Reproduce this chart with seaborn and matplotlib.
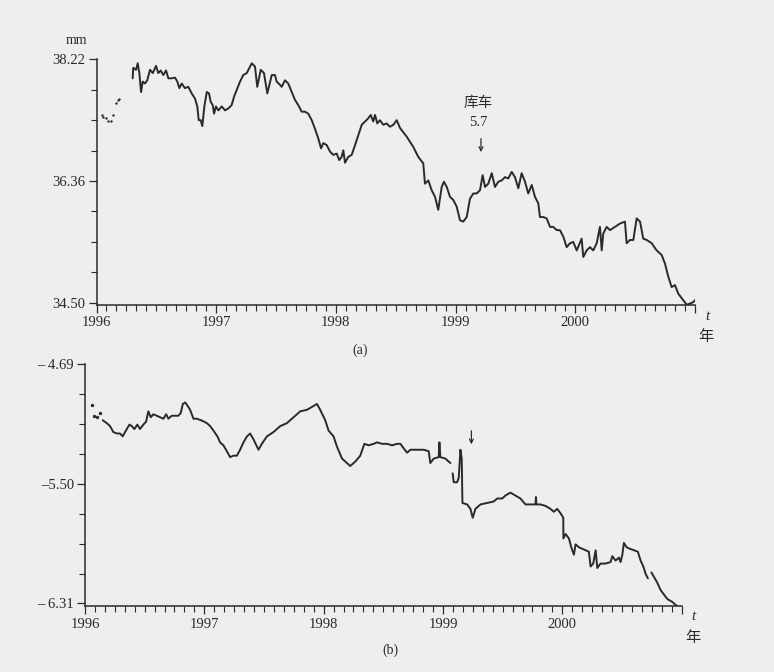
import numpy as np
import pandas as pd
import matplotlib
matplotlib.use("Agg")
import matplotlib.pyplot as plt
from matplotlib.ticker import MultipleLocator, FixedLocator
import seaborn as sns

# ---- panel (a): mm, scattered readings at the start + main record
a_dot_year = [1996.043, 1996.057, 1996.079, 1996.099, 1996.119,
              1996.140, 1996.163, 1996.182, 1996.190]
a_dot_mm = [37.37, 37.34, 37.32, 37.28, 37.28, 37.37, 37.56, 37.60, 37.62]

a_year = [
    1996.302, 1996.307, 1996.330, 1996.344, 1996.358, 1996.372, 1996.386, 1996.405,
    1996.424, 1996.447, 1996.470, 1996.497, 1996.516, 1996.536, 1996.558, 1996.581,
    1996.600, 1996.628, 1996.656, 1996.675, 1996.692, 1996.712, 1996.739, 1996.767,
    1996.795, 1996.823, 1996.842, 1996.854, 1996.870, 1996.884, 1996.901, 1996.921,
    1996.940, 1996.954, 1996.971, 1996.982, 1996.998, 1997.018, 1997.046, 1997.074,
    1997.101, 1997.129, 1997.149, 1997.171, 1997.199, 1997.226, 1997.255, 1997.297,
    1997.324, 1997.343, 1997.372, 1997.399, 1997.427, 1997.464, 1997.491, 1997.505,
    1997.533, 1997.547, 1997.575, 1997.602, 1997.631, 1997.658, 1997.686, 1997.714,
    1997.742, 1997.769, 1997.798, 1997.825, 1997.853, 1997.876, 1997.895, 1997.923,
    1997.951, 1997.978, 1998.007, 1998.028, 1998.048, 1998.062, 1998.076, 1998.104,
    1998.132, 1998.160, 1998.187, 1998.216, 1998.243, 1998.271, 1998.291, 1998.312,
    1998.327, 1998.346, 1998.368, 1998.396, 1998.424, 1998.452, 1998.480, 1998.508,
    1998.536, 1998.591, 1998.647, 1998.688, 1998.730, 1998.744, 1998.772, 1998.800,
    1998.828, 1998.855, 1998.884, 1998.903, 1998.926, 1998.953, 1998.981, 1999.009,
    1999.037, 1999.064, 1999.093, 1999.120, 1999.148, 1999.176, 1999.204, 1999.226,
    1999.246, 1999.273, 1999.302, 1999.329, 1999.357, 1999.385, 1999.413, 1999.440,
    1999.469, 1999.496, 1999.524, 1999.552, 1999.580, 1999.607, 1999.636, 1999.663,
    1999.691, 1999.705, 1999.733, 1999.761, 1999.789, 1999.816, 1999.845, 1999.872,
    1999.900, 1999.928, 1999.956, 1999.983, 2000.012, 2000.053, 2000.067, 2000.095,
    2000.123, 2000.150, 2000.179, 2000.206, 2000.221, 2000.234, 2000.262, 2000.290,
    2000.332, 2000.373, 2000.415, 2000.429, 2000.457, 2000.485, 2000.513, 2000.541,
    2000.568, 2000.597, 2000.638, 2000.680, 2000.722, 2000.749, 2000.777, 2000.805,
    2000.833, 2000.860, 2000.889, 2000.931, 2000.960, 2000.986, 2000.999,
]
a_mm = [
    37.93, 38.09, 38.06, 38.16, 38.01, 37.72, 37.88, 37.85,
    37.90, 38.06, 38.01, 38.12, 38.01, 38.05, 37.98, 38.05,
    37.93, 37.93, 37.94, 37.88, 37.78, 37.85, 37.78, 37.80,
    37.70, 37.62, 37.50, 37.29, 37.29, 37.20, 37.50, 37.72,
    37.70, 37.57, 37.52, 37.39, 37.50, 37.44, 37.50, 37.44,
    37.47, 37.52, 37.65, 37.75, 37.88, 37.98, 38.01, 38.16,
    38.11, 37.80, 38.06, 38.01, 37.70, 37.98, 37.98, 37.88,
    37.83, 37.80, 37.90, 37.85, 37.72, 37.60, 37.52, 37.42,
    37.42, 37.39, 37.29, 37.16, 37.01, 36.86, 36.94, 36.91,
    36.81, 36.76, 36.78, 36.68, 36.73, 36.83, 36.64, 36.73,
    36.76, 36.91, 37.06, 37.22, 37.27, 37.32, 37.37, 37.27,
    37.37, 37.24, 37.29, 37.22, 37.24, 37.19, 37.22, 37.29,
    37.17, 37.04, 36.88, 36.73, 36.63, 36.32, 36.37, 36.22,
    36.12, 35.92, 36.27, 36.35, 36.27, 36.12, 36.07, 35.97,
    35.76, 35.74, 35.81, 36.09, 36.17, 36.17, 36.22, 36.45,
    36.27, 36.32, 36.48, 36.27, 36.35, 36.37, 36.42, 36.40,
    36.50, 36.42, 36.25, 36.48, 36.35, 36.17, 36.30, 36.12,
    36.02, 35.81, 35.81, 35.79, 35.66, 35.66, 35.61, 35.61,
    35.51, 35.35, 35.41, 35.43, 35.30, 35.48, 35.20, 35.30,
    35.35, 35.30, 35.41, 35.66, 35.30, 35.56, 35.66, 35.61,
    35.66, 35.71, 35.74, 35.41, 35.46, 35.46, 35.79, 35.74,
    35.48, 35.46, 35.41, 35.30, 35.23, 35.10, 34.90, 34.74,
    34.77, 34.64, 34.57, 34.47, 34.49, 34.51, 34.54,
]

# ---- panel (b)
b_dot_year = [1996.056, 1996.076, 1996.098, 1996.126]
b_dot_val = [-4.97, -5.04, -5.05, -5.02]

b_year = [
    1996.148, 1996.182, 1996.210, 1996.237, 1996.266, 1996.294, 1996.316, 1996.336,
    1996.372, 1996.392, 1996.414, 1996.439, 1996.461, 1996.489, 1996.512, 1996.531,
    1996.551, 1996.573, 1996.602, 1996.629, 1996.657, 1996.680, 1996.699, 1996.727,
    1996.755, 1996.783, 1996.803, 1996.820, 1996.839, 1996.858, 1996.881, 1996.909,
    1996.937, 1996.971, 1996.998, 1997.021, 1997.049, 1997.076, 1997.110, 1997.132,
    1997.160, 1997.189, 1997.216, 1997.244, 1997.273, 1997.300, 1997.328, 1997.357,
    1997.384, 1997.412, 1997.454, 1997.482, 1997.524, 1997.580, 1997.636, 1997.692,
    1997.748, 1997.804, 1997.860, 1997.902, 1997.944, 1997.971, 1998.013, 1998.041,
    1998.083, 1998.112, 1998.154, 1998.195, 1998.223, 1998.265, 1998.307, 1998.341,
    1998.377, 1998.419, 1998.447, 1998.489, 1998.531, 1998.573, 1998.615, 1998.643,
    1998.670, 1998.699, 1998.727, 1998.783, 1998.838, 1998.880, 1998.894, 1998.922,
    1998.964, 1998.970, 1998.978, 1999.020, 1999.062,
    1999.081, 1999.090, 1999.118, 1999.132, 1999.146, 1999.157, 1999.163, 1999.202,
    1999.230, 1999.249, 1999.272, 1999.314, 1999.370, 1999.425, 1999.454, 1999.496,
    1999.523, 1999.565, 1999.607, 1999.649, 1999.691, 1999.733, 1999.775, 1999.779,
    1999.783, 1999.817, 1999.859, 1999.901, 1999.929, 1999.957, 1999.985, 2000.008,
    2000.009, 2000.027, 2000.055, 2000.075, 2000.097, 2000.111, 2000.139, 2000.167,
    2000.195, 2000.222, 2000.237, 2000.259, 2000.279, 2000.293, 2000.320, 2000.362,
    2000.404, 2000.419, 2000.446, 2000.474, 2000.488, 2000.503, 2000.516, 2000.539,
    2000.566, 2000.600, 2000.633, 2000.656, 2000.679, 2000.698, 2000.717,
    2000.746, 2000.768, 2000.796, 2000.824, 2000.852, 2000.880, 2000.922, 2000.950,
    2000.986,
]
b_val = [
    -5.07, -5.09, -5.11, -5.15, -5.16, -5.16, -5.18, -5.15,
    -5.10, -5.11, -5.13, -5.10, -5.13, -5.10, -5.08, -5.01,
    -5.05, -5.03, -5.04, -5.05, -5.06, -5.03, -5.06, -5.04,
    -5.04, -5.04, -5.02, -4.96, -4.95, -4.97, -5.00, -5.06,
    -5.06, -5.07, -5.08, -5.09, -5.11, -5.14, -5.18, -5.22,
    -5.24, -5.28, -5.32, -5.31, -5.31, -5.27, -5.22, -5.18,
    -5.16, -5.20, -5.27, -5.23, -5.18, -5.15, -5.11, -5.09,
    -5.05, -5.01, -5.00, -4.98, -4.96, -5.00, -5.07, -5.14,
    -5.18, -5.25, -5.33, -5.36, -5.38, -5.35, -5.31, -5.23,
    -5.24, -5.23, -5.22, -5.23, -5.23, -5.24, -5.23, -5.23,
    -5.26, -5.29, -5.27, -5.27, -5.27, -5.28, -5.36, -5.33,
    -5.32, -5.22, -5.32, -5.33, -5.36,
    -5.43, -5.49, -5.49, -5.46, -5.27, -5.33, -5.63, -5.64,
    -5.67, -5.73, -5.67, -5.64, -5.63, -5.62, -5.60, -5.60,
    -5.58, -5.56, -5.58, -5.60, -5.64, -5.64, -5.64, -5.59,
    -5.64, -5.64, -5.65, -5.67, -5.69, -5.67, -5.70, -5.73,
    -5.87, -5.84, -5.87, -5.93, -5.98, -5.91, -5.93, -5.94,
    -5.95, -5.96, -6.06, -6.04, -5.95, -6.07, -6.04, -6.04,
    -6.03, -5.99, -6.02, -6.00, -6.03, -5.98, -5.90, -5.93,
    -5.94, -5.95, -5.96, -6.02, -6.06, -6.11, -6.14,
    -6.10, -6.13, -6.17, -6.22, -6.25, -6.28, -6.30, -6.32,
    -6.34,
]
# the record breaks after these readings
b_breaks = [1999.062, 2000.717]

years = [1996, 1997, 1998, 1999, 2000]

BG = "#eceef0"
INK = "#2a2a2a"

sns.set_style("ticks")
plt.rcParams["font.family"] = ["Liberation Serif", "Noto Sans CJK SC", "DejaVu Sans"]
plt.rcParams["axes.facecolor"] = BG
plt.rcParams["figure.facecolor"] = BG
plt.rcParams["text.color"] = INK
plt.rcParams["axes.edgecolor"] = INK
plt.rcParams["xtick.color"] = INK
plt.rcParams["ytick.color"] = INK

fig = plt.figure(figsize=(7.74, 6.72), dpi=100)
ax_a = fig.add_axes([0.1247, 0.5465, 0.7732, 0.3652])
ax_b = fig.add_axes([0.1098, 0.0976, 0.7709, 0.3607])

df_a = pd.DataFrame({"year": a_year, "val": a_mm})
sns.lineplot(data=df_a, x="year", y="val", ax=ax_a, color=INK, lw=1.4,
             estimator=None)
sns.scatterplot(x=a_dot_year, y=a_dot_mm, ax=ax_a, color=INK, s=3,
                linewidth=0)

df_b = pd.DataFrame({"year": b_year, "val": b_val})
df_b["seg"] = np.searchsorted(b_breaks, df_b["year"], side="left")
sns.lineplot(data=df_b, x="year", y="val", units="seg", ax=ax_b, color=INK,
             lw=1.4, estimator=None)
sns.scatterplot(x=b_dot_year, y=b_dot_val, ax=ax_b, color=INK, s=6,
                linewidth=0)


def style_axis(ax, ylim, yticks, ylabels, minor_step):
    ax.set_xlim(1996, 2001)
    ax.set_ylim(*ylim)
    sns.despine(ax=ax)
    ax.spines["left"].set_bounds(ylim[0], yticks[0])
    ax.set_xticks(years + [2001])
    ax.set_xticklabels([str(y) for y in years] + [""])
    ax.xaxis.set_minor_locator(MultipleLocator(1 / 12))
    ax.set_yticks(yticks)
    ax.set_yticklabels(ylabels)
    ax.yaxis.set_minor_locator(FixedLocator(
        np.arange(yticks[-1], yticks[0], minor_step)))
    ax.tick_params(axis="both", which="major", length=6, width=0.9,
                   labelsize=10.5, pad=2)
    ax.tick_params(axis="both", which="minor", length=4, width=0.8)
    ax.set_xlabel("")
    ax.set_ylabel("")
    for s in ax.spines.values():
        s.set_linewidth(1.1)


style_axis(ax_a, (34.47, 38.22), [38.22, 36.36, 34.50],
           ["38.22", "36.36", "34.50"], 0.465)
style_axis(ax_b, (-6.33, -4.69), [-4.69, -5.50, -6.31],
           ["– 4.69", "–5.50", "– 6.31"], 0.2025)

# annotations
ax_a.text(1999.187, 37.55, "库车", ha="center", va="center", fontsize=10.5)
ax_a.text(1999.187, 37.26, "5.7", ha="center", va="center", fontsize=10.5)
ax_a.annotate("", xy=(1999.212, 36.76), xytext=(1999.212, 37.05),
              arrowprops=dict(arrowstyle="->", color=INK, lw=0.9,
                              mutation_scale=7))
ax_b.annotate("", xy=(1999.238, -5.252), xytext=(1999.238, -5.123),
              arrowprops=dict(arrowstyle="->", color=INK, lw=0.9,
                              mutation_scale=7))

fig.text(76 / 774, 1 - 40 / 672, "mm", ha="center", va="center", fontsize=10)
fig.text(707 / 774, 1 - 317 / 672, "t", ha="center", va="center",
         fontsize=11, style="italic")
fig.text(706 / 774, 1 - 337 / 672, "年", ha="center", va="center", fontsize=11)
fig.text(360 / 774, 1 - 350 / 672, "(a)", ha="center", va="center", fontsize=10)
fig.text(693 / 774, 1 - 617 / 672, "t", ha="center", va="center",
         fontsize=11, style="italic")
fig.text(693 / 774, 1 - 638 / 672, "年", ha="center", va="center", fontsize=11)
fig.text(390 / 774, 1 - 650 / 672, "(b)", ha="center", va="center", fontsize=10)

fig.savefig("out.png", dpi=100, facecolor=BG)
